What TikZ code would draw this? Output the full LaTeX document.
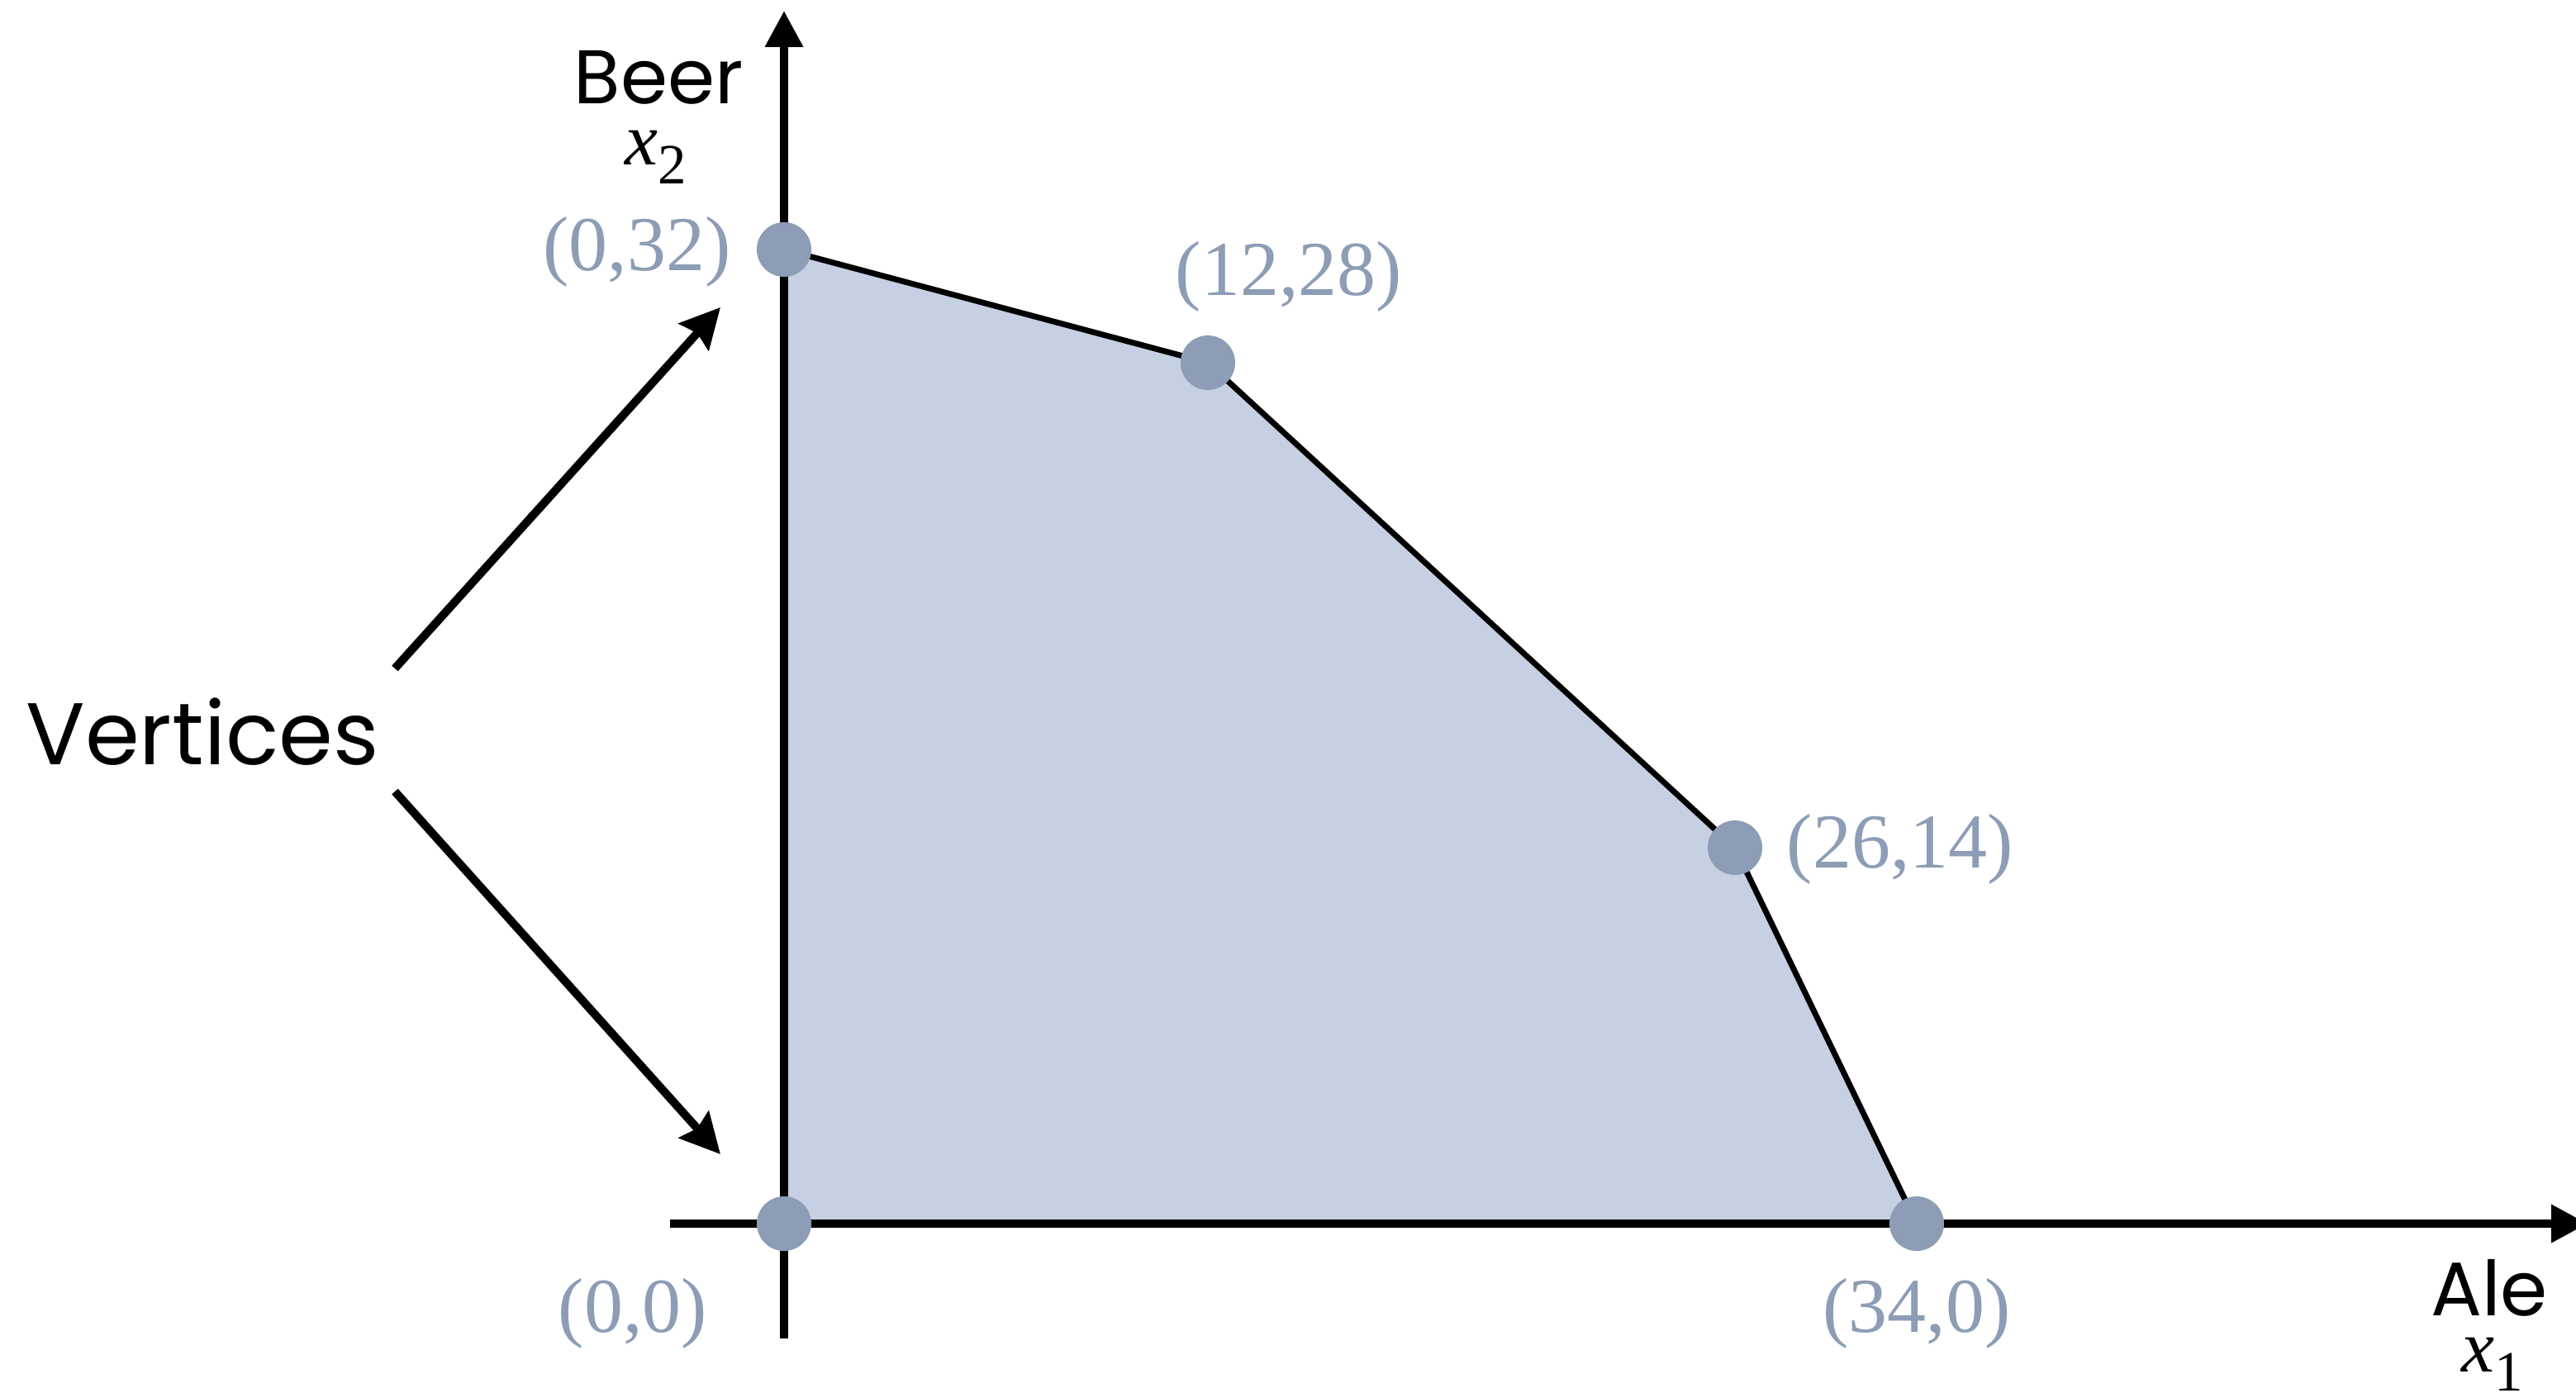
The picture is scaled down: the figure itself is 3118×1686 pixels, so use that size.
\documentclass[tikz,border=0pt]{standalone}
\usepackage{fontspec}
\setmainfont{Liberation Serif}
\newfontfamily\labsans{Poppins}
\usetikzlibrary{arrows.meta}
\definecolor{dotc}{HTML}{8C9DB5}
\definecolor{regionc}{HTML}{C5D0E2}
\begin{document}
\begin{tikzpicture}[x=1pt,y=-1pt,
  axis/.style={line width=10pt,-{Triangle[length=44pt,width=44pt]}},
  edge/.style={line width=7pt,line join=round},
  pointer/.style={line width=10pt,-{Stealth[length=48pt,width=48pt,inset=6pt]}},
  vdot/.style={circle,fill=dotc,inner sep=0pt,minimum size=66pt},
  coord/.style={text=dotc,font=\fontsize{94}{100}\selectfont,inner sep=0pt,anchor=base},
  sanslab/.style={font=\labsans\fontsize{92}{100}\selectfont,inner sep=0pt,anchor=base},
  varlab/.style={inner sep=0pt,anchor=base}]
\useasboundingbox (0,0) rectangle (3118,1686);
% vertices
\coordinate (O) at (949,1481);
\coordinate (A) at (949,302);
\coordinate (B) at (1462,439);
\coordinate (C) at (2100,1026);
\coordinate (D) at (2320,1481);
% feasible region
\fill[regionc] (O) -- (A) -- (B) -- (C) -- (D) -- cycle;
% axes
\coordinate (xs) at (811,1481);
\coordinate (xe) at (3132,1481);
\coordinate (ys) at (949,1620);
\coordinate (ye) at (949,13);
\draw[axis] (xs) -- (xe);
\draw[axis] (ys) -- (ye);
% boundary
\draw[edge] (A) -- (B) -- (C) -- (D);
% dots
\foreach \p in {O,A,B,C,D} \node[vdot] (d\p) at (\p) {};
% coordinate labels
\node[coord] (lA) at (771,327) {(0,32)};
\node[coord] (lB) at (1560,357) {(12,28)};
\node[coord] (lC) at (2300,1050) {(26,14)};
\node[coord] (lD) at (2320,1612) {(34,0)};
\node[coord] (lO) at (766,1612) {(0,0)};
% axis names
\node[sanslab] (beer) at (797,125) {Beer};
\node[varlab] (x2) at (794,199) {\fontsize{90}{100}\selectfont\itshape x\upshape\raisebox{-23pt}{\fontsize{69}{80}\selectfont 2}};
\node[sanslab] (ale) at (3013,1592) {Ale};
\node[varlab] (x1) at (3017,1660) {\fontsize{90}{100}\selectfont\itshape x\upshape\raisebox{-23pt}{\fontsize{69}{80}\selectfont 1}};
% Vertices
\node[sanslab,font=\labsans\fontsize{106}{110}\selectfont] (vert) at (245,925) {Vertices};
\coordinate (p1s) at (478,809);
\coordinate (p1e) at (872,372);
\coordinate (p2s) at (478,958);
\coordinate (p2e) at (872,1397);
\draw[pointer] (p1s) -- (p1e);
\draw[pointer] (p2s) -- (p2e);
\end{tikzpicture}
\end{document}
